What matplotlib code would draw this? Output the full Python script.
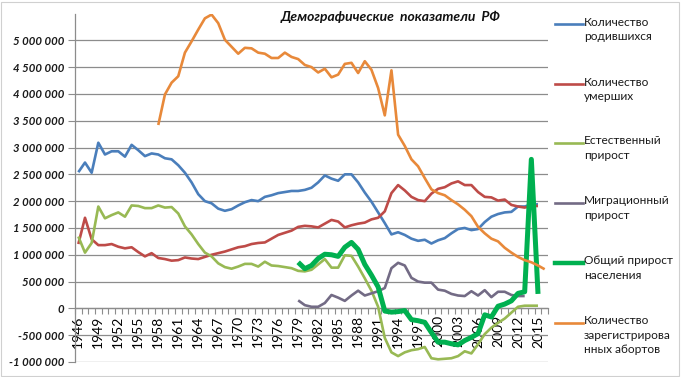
import matplotlib
matplotlib.use("Agg")
import matplotlib.pyplot as plt
from matplotlib.lines import Line2D
from matplotlib.patches import Rectangle
import numpy as np

plt.rcParams['font.family'] = ['Lato', 'DejaVu Sans']

# ---------------- data (thousands of people / cases) ----------------
years = list(range(1946, 2017))

births_start = 1946
births = [2540, 2720, 2530, 3090, 2870, 2930, 2930, 2830, 3050, 2950,
          2840, 2890, 2870, 2800, 2780, 2670, 2530, 2350, 2130, 2000,
          1960, 1860, 1820, 1850, 1920, 1980, 2020, 2000, 2080, 2110,
          2150, 2170, 2190, 2190, 2210, 2250, 2350, 2480, 2420, 2380,
          2500, 2500, 2350, 2160, 1990, 1790, 1590, 1380, 1420, 1370,
          1300, 1260, 1280, 1210, 1270, 1310, 1400, 1480, 1500, 1460,
          1480, 1610, 1710, 1760, 1790, 1800, 1900, 1900, 1940, 1940]

deaths_start = 1946
deaths = [1200, 1690, 1290, 1180, 1180, 1200, 1150, 1120, 1140, 1050,
          970, 1030, 940, 920, 890, 900, 950, 930, 920, 960,
          1000, 1030, 1060, 1100, 1140, 1160, 1200, 1220, 1230, 1300,
          1370, 1410, 1450, 1520, 1540, 1530, 1510, 1580, 1650, 1620,
          1510, 1550, 1580, 1600, 1660, 1690, 1810, 2150, 2300, 2200,
          2080, 2020, 2000, 2140, 2230, 2260, 2330, 2370, 2300, 2300,
          2170, 2080, 2070, 2010, 2030, 1930, 1900, 1880, 1910, 1910]

natural_start = 1946
natural = [1340, 1040, 1220, 1900, 1680, 1740, 1790, 1710, 1920, 1910,
           1870, 1870, 1920, 1880, 1890, 1770, 1530, 1380, 1200, 1040,
           970, 840, 770, 740, 780, 830, 830, 780, 870, 800,
           790, 770, 750, 700, 690, 720, 820, 920, 760, 760,
           990, 980, 780, 560, 330, 30, -550, -820, -890, -820,
           -780, -760, -720, -930, -950, -940, -930, -890, -800, -840,
           -670, -480, -360, -270, -190, -80, 30, 50, 50, 50]

migration_start = 1979
migration = [150, 60, 30, 30, 100, 250, 200, 140, 240, 330,
             240, 280, 320, 380, 750, 850, 800, 570, 500, 480,
             480, 350, 330, 270, 240, 230, 320, 240, 340, 210,
             310, 310, 250, 230, 230]

total_start = 1979
total = [860, 740, 800, 930, 1010, 1000, 970, 1140, 1230, 1100,
         820, 620, 400, -50, -70, -60, -40, -210, -230, -260,
         -450, -630, -630, -660, -680, -600, -540, -470, -120, -160,
         40, 80, 140, 280, 310, 2780, 270]

abortions_start = 1958
abortions = [3420, 3990, 4210, 4330, 4770, 4980, 5200, 5410, 5480, 5320,
             5010, 4880, 4750, 4860, 4850, 4770, 4750, 4670, 4670, 4770,
             4690, 4650, 4540, 4500, 4400, 4470, 4310, 4360, 4560, 4580,
             4390, 4610, 4450, 4110, 3600, 4440, 3240, 3030, 2780, 2650,
             2430, 2220, 2150, 2110, 2020, 1940, 1840, 1720, 1520, 1400,
             1300, 1250, 1130, 1040, 960, 900, 860, 800, 730]

labels = ["Количество\nродившихся",
          "Количество\nумерших",
          "Естественный\nприрост",
          "Миграционный\nприрост",
          "Общий прирост\nнаселения",
          "Количество\nзарегистрирова\nнных абортов"]

title = "Демографические  показатели  РФ"

yticks = [-1000000, -500000, 0, 500000, 1000000, 1500000, 2000000,
          2500000, 3000000, 3500000, 4000000, 4500000, 5000000]

colors = ['#4A7EBB', '#BE4B48', '#98B954', '#736B85', '#00B050', '#E8893A']
widths = [1.9, 1.9, 1.9, 1.9, 3.6, 1.9]

series = [(births_start, births), (deaths_start, deaths),
          (natural_start, natural), (migration_start, migration),
          (total_start, total), (abortions_start, abortions)]

# ---------------- figure ----------------
W, H = 681, 377
fig = plt.figure(figsize=(W / 100, H / 100), dpi=100)
fig.patch.set_facecolor('white')
fig.add_artist(Rectangle((1 / W, 1 / H), (W - 3) / W, (H - 3) / H,
                         transform=fig.transFigure, fill=False,
                         edgecolor='#D0D0D0', lw=0.8))

ax = fig.add_axes([75 / W, (H - 362) / H, (548 - 75) / W, (362 - 13.5) / H])

draw_order = [5, 0, 1, 2, 3, 4]
for k in draw_order:
    start, vals = series[k]
    idx = [years.index(start) + i for i in range(len(vals))]
    ax.plot(idx, np.array(vals) * 1000, color=colors[k], lw=widths[k],
            solid_joinstyle='round', solid_capstyle='butt', zorder=3 + k * 0.1)

ax.set_xlim(-0.5, len(years) - 0.5)
ax.set_ylim(-1000000, 5500000)

ylab = [f"{v:,}".replace(",", " ") for v in yticks]
ax.set_yticks(yticks)
ax.set_yticklabels(ylab, fontstyle='italic', fontweight='bold', fontsize=8.2,
                   color='#1a1a1a')
ax.yaxis.grid(True, color='#8C8C8C', lw=0.9)
ax.set_axisbelow(True)

major = list(range(0, 70, 3))
ax.set_xticks(major)
ax.set_xticklabels([str(years[i]) for i in major], fontsize=8.4,
                   color='#1a1a1a')
ax.set_xticks(np.arange(-0.5, len(years), 1), minor=True)
ax.tick_params(axis='x', which='major', length=0, pad=5, labelrotation=90)
ax.tick_params(axis='x', which='minor', length=4, color='#8C8C8C', width=0.8)
ax.tick_params(axis='y', length=5, color='#8C8C8C', width=0.8, pad=3)

for s in ['top', 'right']:
    ax.spines[s].set_visible(False)
ax.spines['bottom'].set_position(('data', 0))
ax.spines['bottom'].set_color('#8C8C8C')
ax.spines['left'].set_color('#8C8C8C')
ax.spines['bottom'].set_linewidth(0.9)
ax.spines['left'].set_linewidth(0.9)

fig.text(391 / W, 1 - 17 / H, title, ha='center', va='center',
         fontsize=10, fontweight='bold', fontstyle='italic', color='#111111')

# ---------------- legend ----------------
leg_y = [24, 84, 143, 203, 263, 323]
for k in range(6):
    y = 1 - leg_y[k] / H
    fig.add_artist(Line2D([555 / W, 583 / W], [y, y], transform=fig.transFigure,
                          color=colors[k], lw=widths[k] if k != 4 else 3.2))
    fig.text(584 / W, 1 - (leg_y[k] - 7.5) / H, labels[k], ha='left', va='top',
             fontsize=8.6, linespacing=1.35, color='#1a1a1a')

fig.savefig('out.png', dpi=100, facecolor='white')
